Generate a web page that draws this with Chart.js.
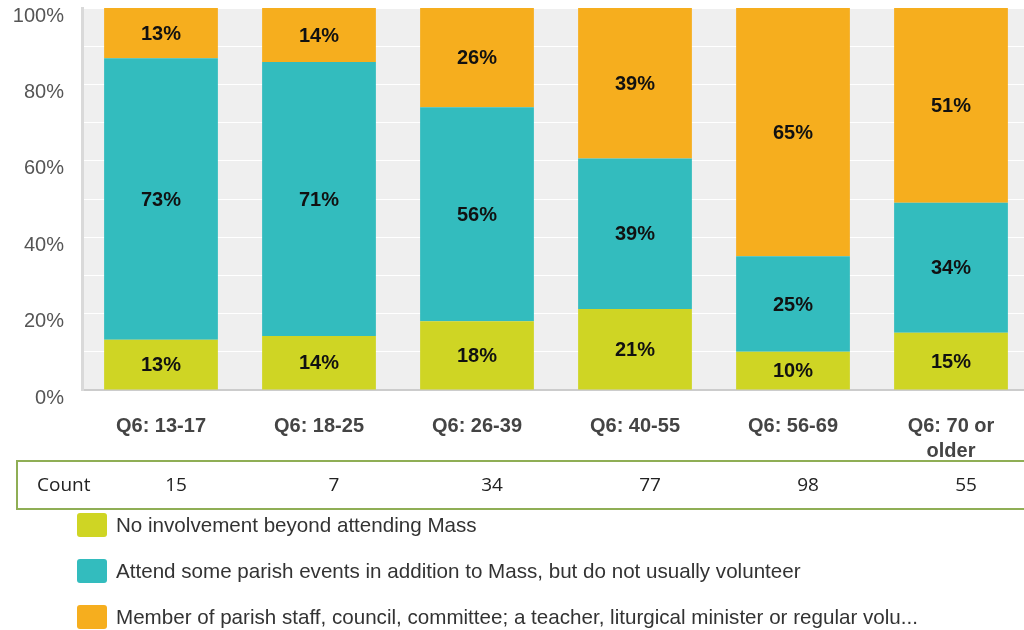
<!DOCTYPE html>
<html>
<head>
<meta charset="utf-8">
<script src="https://cdn.jsdelivr.net/npm/chart.js@4.4.1/dist/chart.umd.min.js"></script>
<style>
  html, body { margin: 0; padding: 0; overflow: hidden; background: #fff; }
  #wrap { position: relative; width: 1024px; height: 630px; overflow: hidden; }
  #chart { position: absolute; left: 0; top: 0; }
  #legend { position: absolute; left: 77px; top: 513px; font: 20.6px "Liberation Sans", Arial, sans-serif; color: #333; }
  #legend .row { height: 46px; display: flex; align-items: flex-start; }
  #legend .box { width: 30px; height: 24px; border-radius: 3px; margin-right: 9px; }
  #legend .txt { line-height: 24px; white-space: nowrap; }
</style>
</head>
<body>
<div id="wrap">
  <canvas id="chart" width="1030" height="630"></canvas>
  <div id="legend"></div>
</div>
<script>
// categories et valeurs
const categories = ['Q6: 13-17', 'Q6: 18-25', 'Q6: 26-39', 'Q6: 40-55', 'Q6: 56-69', ['Q6: 70 or', 'older']];
const counts = [15, 7, 34, 77, 98, 55];

const noInvolvement = [13, 14, 18, 21, 10, 15];
const attendEvents = [73, 71, 56, 39, 25, 34];
const memberStaff = [13, 14, 26, 39, 65, 51];

const seriesNames = [
  'No involvement beyond attending Mass',
  'Attend some parish events in addition to Mass, but do not usually volunteer',
  'Member of parish staff, council, committee; a teacher, liturgical minister or regular volu...'
];
const seriesColors = ['#cfd524', '#33bcbe', '#f6ae1e'];
const yTicks = [0, 20, 40, 60, 80, 100];

const rawSeries = [noInvolvement, attendEvents, memberStaff];
// chaque colonne ramenée à 100 %
const totals = categories.map((c, i) => rawSeries.reduce((s, arr) => s + arr[i], 0));
const shares = rawSeries.map(arr => arr.map((v, i) => v / totals[i] * 100));

const FONT = '"Liberation Sans", Arial, sans-serif';

// fond gris de la zone de tracé
const plotBg = {
  id: 'plotBg',
  beforeDraw(chart) {
    const { ctx, chartArea: a } = chart;
    ctx.save();
    ctx.fillStyle = '#efefef';
    ctx.fillRect(a.left, a.top, a.right - a.left, a.bottom - a.top);
    ctx.restore();
  }
};

// pourcentages au centre des segments
const barLabels = {
  id: 'barLabels',
  afterDatasetsDraw(chart) {
    const ctx = chart.ctx;
    ctx.save();
    ctx.font = 'bold 20px ' + FONT;
    ctx.fillStyle = '#111';
    ctx.textAlign = 'center';
    ctx.textBaseline = 'middle';
    chart.data.datasets.forEach((ds, d) => {
      chart.getDatasetMeta(d).data.forEach((bar, i) => {
        const p = bar.getCenterPoint();
        ctx.fillText(rawSeries[d][i] + '%', p.x, p.y + 1);
      });
    });
    ctx.restore();
  }
};

// ligne "Count" sous l'axe
const countRow = {
  id: 'countRow',
  afterDraw(chart) {
    const ctx = chart.ctx;
    const x = chart.scales.x;
    ctx.save();
    ctx.strokeStyle = '#8fae55';
    ctx.lineWidth = 2;
    ctx.beginPath();
    ctx.moveTo(1040, 461);
    ctx.lineTo(17, 461);
    ctx.lineTo(17, 509);
    ctx.lineTo(1040, 509);
    ctx.stroke();
    ctx.font = '19px "Open Sans", sans-serif';
    ctx.fillStyle = '#222';
    ctx.textBaseline = 'middle';
    ctx.textAlign = 'left';
    ctx.fillText('Count', 37, 486);
    ctx.textAlign = 'center';
    counts.forEach((c, i) => {
      ctx.fillText(String(c), x.getPixelForValue(i) + 15, 486);
    });
    ctx.restore();
  }
};

const chart = new Chart(document.getElementById('chart'), {
  type: 'bar',
  data: {
    labels: categories,
    datasets: seriesNames.map((name, k) => ({
      label: name,
      data: shares[k],
      backgroundColor: seriesColors[k],
      borderWidth: 0,
      categoryPercentage: 1,
      barPercentage: 0.72
    }))
  },
  options: {
    responsive: false,
    animation: false,
    layout: { padding: { top: 8, right: 0, bottom: 170, left: 0 } },
    plugins: {
      legend: { display: false },
      tooltip: { enabled: false }
    },
    scales: {
      x: {
        stacked: true,
        afterFit(scale) {
          scale.height = 70;
          scale.paddingLeft = 0;
          scale.paddingRight = 0;
        },
        grid: { display: false },
        border: { color: '#cccccc', width: 2 },
        ticks: {
          color: '#444',
          padding: 16,
          maxRotation: 0,
          font: { family: FONT, size: 20, weight: 'bold', lineHeight: 1.25 }
        }
      },
      y: {
        stacked: true,
        min: 0,
        max: 100,
        afterFit(scale) {
          scale.width = 82;
          scale.paddingTop = 0;
          scale.paddingBottom = 0;
        },
        afterBuildTicks(scale) {
          scale.ticks = [];
          for (let v = 0; v <= 100; v += 10) scale.ticks.push({ value: v });
        },
        grid: { color: '#ffffff', lineWidth: 1, drawTicks: false },
        border: { color: '#d9d9d9', width: 3 },
        ticks: {
          color: '#555',
          padding: 18,
          labelOffset: 8,
          font: { family: FONT, size: 20 },
          callback: v => yTicks.includes(v) ? v + '%' : ''
        }
      }
    }
  },
  plugins: [plotBg, barLabels, countRow]
});

// légende HTML construite depuis les jeux de données
const legend = document.getElementById('legend');
chart.data.datasets.forEach(ds => {
  const row = document.createElement('div');
  row.className = 'row';
  row.innerHTML = '<div class="box" style="background:' + ds.backgroundColor + '"></div><div class="txt"></div>';
  row.querySelector('.txt').textContent = ds.label;
  legend.appendChild(row);
});
</script>
</body>
</html>
